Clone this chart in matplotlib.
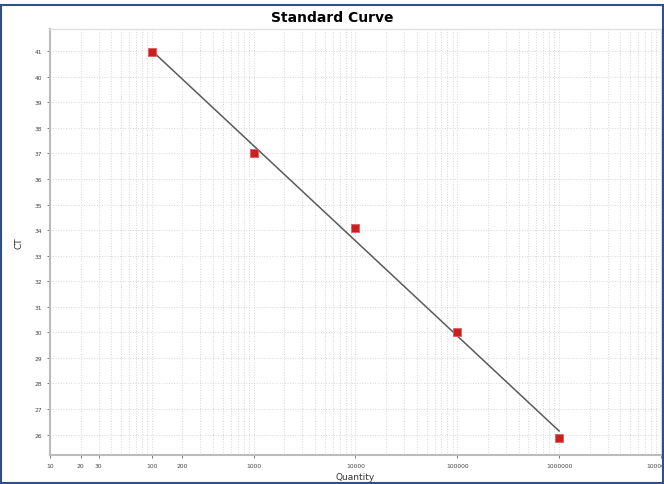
import numpy as np
import matplotlib.pyplot as plt
from matplotlib.patches import Rectangle
from matplotlib.ticker import FixedLocator, LogLocator, NullFormatter

# standard curve points (quantity vs Ct)
quantity = [100, 1000, 10000, 100000, 1000000]
ct = [40.95, 37.0, 34.1, 30.0, 25.85]

x_ticks = [10, 20, 30, 100, 200, 1000, 10000, 100000, 1000000, 10000000]
x_tick_labels = ['10', '20', '30', '100', '200', '1000', '10000', '100000', '1000000', '10000000']
y_ticks = list(range(26, 42))

fig = plt.figure(figsize=(6.64, 4.85), dpi=100)
ax = fig.add_axes([0.0753, 0.0598, 0.920, 0.878])

# linear fit in log space
slope, intercept = np.polyfit(np.log10(quantity), ct, 1)
fit_x = np.array([quantity[0], quantity[-1]])
fit_y = slope * np.log10(fit_x) + intercept
ax.plot(fit_x, fit_y, color='#5a5a5a', lw=1.1, zorder=3)
ax.scatter(quantity, ct, marker='s', s=38, color='#cc1f1f', edgecolors='#e06060', linewidths=0.6, zorder=4)

ax.set_xscale('log')
ax.set_xlim(10, 10000000)
ax.set_ylim(25.2, 41.86)

ax.xaxis.set_major_locator(FixedLocator(x_ticks))
ax.set_xticklabels(x_tick_labels)
ax.xaxis.set_minor_locator(LogLocator(base=10, subs=np.arange(2, 10)))
ax.xaxis.set_minor_formatter(NullFormatter())
ax.set_yticks(y_ticks)

ax.grid(True, which='both', axis='x', color='#d6d6d6', ls=':', lw=0.7)
ax.grid(True, which='major', axis='y', color='#d6d6d6', ls=':', lw=0.7)
ax.set_axisbelow(True)

ax.tick_params(axis='both', which='major', labelsize=4.3, colors='#444444', length=2, width=0.5)
ax.tick_params(axis='x', which='minor', length=0)

for s in ax.spines.values():
    s.set_color('#e0e0e0')
    s.set_linewidth(1.0)
ax.spines['left'].set_color('#bbbbbb')
ax.spines['bottom'].set_color('#bbbbbb')
ax.spines['left'].set_linewidth(1.5)
ax.spines['bottom'].set_linewidth(1.5)

ax.set_xlabel('Quantity', fontsize=6.5, color='#333333', labelpad=3)
ax.set_ylabel('CT', fontsize=6.5, color='#333333', labelpad=8)
fig.text(0.5, 0.963, 'Standard Curve', ha='center', va='center', fontsize=10, fontweight='bold')

fig.patches.append(Rectangle((0.002, 0.002), 0.996, 0.985, transform=fig.transFigure,
                             fill=False, edgecolor='#2d4f8c', lw=1.5))

fig.savefig('out.png', dpi=100)
